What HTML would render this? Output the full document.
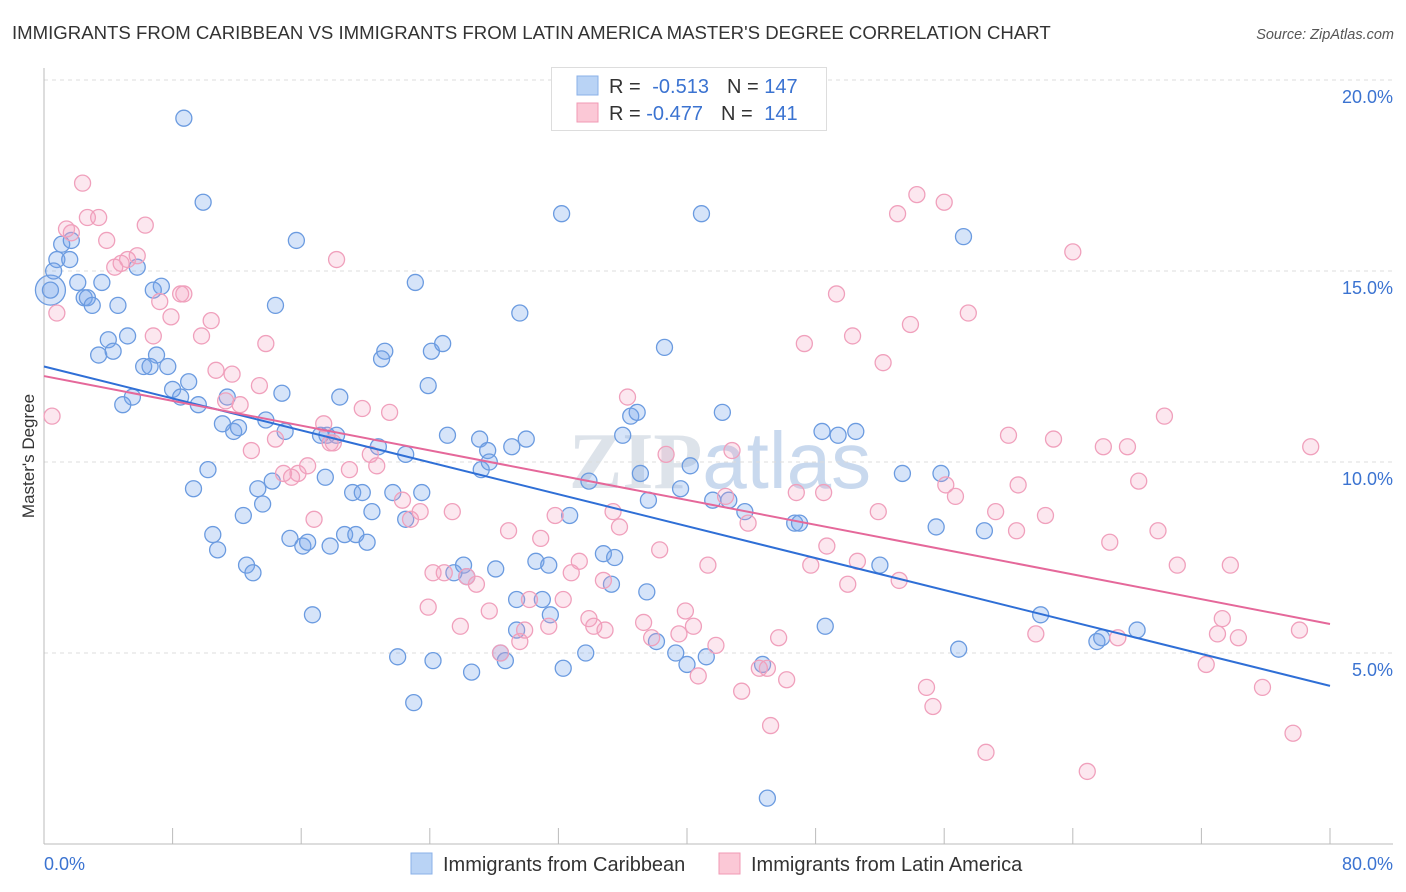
<!DOCTYPE html>
<html><head><meta charset="utf-8"><style>
body{margin:0;background:#fff;font-family:"Liberation Sans",sans-serif}
#wrap{position:relative;width:1406px;height:892px;overflow:hidden}
</style></head><body>
<div id="wrap">
<svg id="svg" width="1406" height="892" xmlns="http://www.w3.org/2000/svg">
<text x="12" y="39" font-size="18.6" fill="#333">IMMIGRANTS FROM CARIBBEAN VS IMMIGRANTS FROM LATIN AMERICA MASTER'S DEGREE CORRELATION CHART</text>
<text x="1394" y="39" font-size="14.5" fill="#555" font-style="italic" text-anchor="end">Source: ZipAtlas.com</text>
<text x="720" y="488" font-size="80" fill="#dde3ea" text-anchor="middle" font-family="Liberation Serif,serif" font-weight="bold">ZIP<tspan font-family="Liberation Sans,sans-serif" font-weight="normal" fill="#c9d9ee">atlas</tspan></text>
<g id="grid"></g><g id="axes"></g><g id="pts"></g><g id="trend"></g>
<text transform="translate(34,456) rotate(-90)" font-size="17" fill="#333" text-anchor="middle">Master's Degree</text>
<text x="44" y="870" font-size="18" fill="#3b73d1">0.0%</text>
<text x="1393" y="870" font-size="18" fill="#3b73d1" text-anchor="end">80.0%</text>
<g>
<rect x="551.5" y="67.5" width="275" height="63" fill="#fff" stroke="#ddd"/>
<rect x="577" y="76" width="21" height="19" fill="#b9d3f5" stroke="#8ab0e8"/>
<rect x="577" y="103" width="21" height="19" fill="#fbc8d6" stroke="#f09ab4"/>
<text x="609" y="93" font-size="20" fill="#333">R = <tspan fill="#3b73d1" dx="6">-0.513</tspan><tspan dx="18" fill="#333">N = </tspan><tspan fill="#3b73d1">147</tspan></text>
<text x="609" y="120" font-size="20" fill="#333">R = <tspan fill="#3b73d1">-0.477</tspan><tspan dx="18" fill="#333">N = </tspan><tspan fill="#3b73d1" dx="6">141</tspan></text>
</g>
<g>
<rect x="411" y="853" width="21" height="21" fill="#b9d3f5" stroke="#8ab0e8"/>
<text x="443" y="871" font-size="20" fill="#333">Immigrants from Caribbean</text>
<rect x="719" y="853" width="21" height="21" fill="#fbc8d6" stroke="#f09ab4"/>
<text x="751" y="871" font-size="20" fill="#333">Immigrants from Latin America</text>
</g>
</svg></div>
<script>
const blueX=[8.7,9.9,15.7,32.2,40.9,57.2,1.1,1.7,0.8,1.6,5.8,0.6,0.4,2.1,3.6,2.5,2.7,3.0,4.6,7.3,6.8,14.4,23.1,29.6,4.0,5.2,3.4,4.3,7.0,6.2,6.6,7.7,9.0,8.0,8.5,9.6,5.5,4.9,11.4,14.8,18.4,21.2,21.0,24.1,24.8,23.9,38.6,11.1,11.8,12.1,13.8,15.0,17.2,17.6,18.2,20.8,22.5,25.1,27.1,27.6,27.2,27.7,29.1,30.0,36.5,36.9,36.0,42.2,48.4,49.4,50.5,10.2,9.3,12.4,13.3,13.6,14.2,17.5,19.2,19.8,20.4,21.7,22.5,23.5,32.7,33.9,37.1,37.6,39.6,40.2,41.6,42.6,43.6,46.7,47.0,53.4,55.8,55.5,58.5,10.5,10.8,15.3,16.1,16.4,17.8,18.7,19.4,20.1,12.6,13.0,16.7,25.5,26.1,26.3,28.1,30.6,31.4,34.8,35.5,35.3,37.5,29.4,31.0,31.5,52.0,62.0,29.4,22.0,24.2,26.6,28.4,28.7,32.3,33.7,38.1,39.3,40.0,41.2,44.7,48.6,56.9,65.5,65.8,68.0,23.0,45.0];
const blueY=[19.0,16.8,15.8,16.5,16.5,15.9,15.7,15.8,15.3,15.3,15.1,15.0,14.5,14.7,14.7,14.3,14.3,14.1,14.1,14.6,14.5,14.1,14.7,13.9,13.2,13.3,12.8,12.9,12.8,12.5,12.5,12.5,12.1,11.9,11.7,11.5,11.7,11.5,11.7,11.8,11.7,12.9,12.7,12.9,13.1,12.0,13.0,11.0,10.8,10.9,11.1,10.8,10.7,10.7,10.7,10.4,10.2,10.7,10.6,10.3,9.8,10.0,10.4,10.6,11.2,11.3,10.7,11.3,10.8,10.7,10.8,9.8,9.3,8.6,9.3,8.9,9.5,9.6,9.2,9.2,8.7,9.2,8.5,9.2,8.6,9.5,9.7,9.0,9.3,9.9,9.0,9.0,8.7,8.4,8.4,9.7,9.7,8.3,8.2,8.1,7.7,8.0,7.8,7.9,7.8,8.1,8.1,7.9,7.3,7.1,6.0,7.1,7.3,7.0,7.2,7.4,7.3,7.6,7.5,6.8,6.6,6.4,6.4,6.0,7.3,6.0,5.6,4.9,4.8,4.5,5.0,4.8,4.6,5.0,5.3,5.0,4.7,4.9,4.7,5.7,5.1,5.3,5.4,5.6,3.7,1.2];
const pinkX=[2.4,1.4,1.7,2.7,3.4,3.9,6.3,4.4,4.8,5.2,5.8,0.8,0.5,7.2,7.9,8.7,8.5,6.8,9.8,10.4,13.8,18.2,10.7,11.7,11.3,12.2,13.4,14.4,12.9,17.4,18.0,17.8,19.8,21.5,20.3,20.7,19.0,14.9,15.8,16.4,15.4,16.8,22.3,23.4,22.8,25.4,28.9,30.9,31.8,35.4,35.8,38.7,36.3,42.8,42.4,43.8,46.8,48.5,48.7,49.3,50.3,47.3,52.2,53.1,54.3,56.0,53.9,57.5,64.0,60.0,62.8,65.9,67.4,69.7,78.8,56.1,56.7,59.2,60.6,62.3,68.1,60.5,66.3,69.3,70.5,73.8,51.9,47.7,50.6,50.0,53.2,24.2,24.9,26.9,26.3,27.7,30.2,32.3,32.8,33.3,38.3,41.3,23.9,25.9,29.6,29.9,31.4,33.9,34.2,34.9,37.3,39.9,40.4,37.8,39.5,41.8,45.7,28.4,40.7,43.4,44.5,45.0,46.2,54.9,55.3,45.2,58.6,64.9,61.7,66.8,73.0,73.3,74.3,78.1,72.3,75.8,77.7,34.8];
const pinkY=[17.3,16.1,16.0,16.4,16.4,15.8,16.2,15.1,15.2,15.3,15.4,13.9,11.2,14.2,13.8,14.4,14.4,13.3,13.3,13.7,13.1,15.3,12.4,12.3,11.6,11.5,12.0,10.6,10.3,11.0,10.5,10.5,11.4,11.3,10.2,9.9,9.8,9.7,9.7,9.9,9.6,8.5,9.0,8.7,8.5,8.7,8.2,8.0,8.6,8.7,8.3,10.2,11.7,10.3,9.1,8.4,9.2,9.2,7.8,14.4,13.3,13.1,12.6,16.5,17.0,16.8,13.6,13.9,15.5,10.7,10.6,10.4,10.4,11.2,10.4,9.4,9.1,8.7,9.4,8.6,9.5,8.2,7.9,8.2,7.3,7.3,8.7,7.3,7.4,6.8,6.9,7.1,7.1,6.8,7.0,6.1,6.4,6.4,7.1,7.4,7.7,7.3,6.2,5.7,5.3,5.6,5.7,5.9,5.7,5.6,5.8,6.1,5.7,5.4,5.5,5.2,5.4,5.0,4.4,4.0,4.6,4.6,4.3,4.1,3.6,3.1,2.4,1.9,5.5,5.4,5.5,5.9,5.4,5.6,4.7,4.1,2.9,6.9];
const bigBlueX=[0.4];
const bigBlueY=[14.5];
const blueTrend=[12.5,4.14];
const pinkTrend=[12.25,5.76];
const yTicks=[5,10,15,20];
const yTickLabels=["5.0%","10.0%","15.0%","20.0%"];
const xTicks=[0,8,16,24,32,40,48,56,64,72,80];
const NS="http://www.w3.org/2000/svg";
const sx=v=>44+v*1286/80, sy=v=>844-v*38.2;
function mk(t,a,p){const e=document.createElementNS(NS,t);for(const k in a)e.setAttribute(k,a[k]);p.appendChild(e);return e;}
const grid=document.getElementById('grid'),axes=document.getElementById('axes'),pts=document.getElementById('pts'),tr=document.getElementById('trend');
yTicks.forEach((v,i)=>{
 const l=mk('line',{x1:44,x2:1393,y1:sy(v),y2:sy(v),stroke:'#dcdcdc','stroke-dasharray':'4,4'},grid);
 
 
 const t=mk('text',{x:1393,y:sy(v)+23,'font-size':18,fill:'#3b73d1','text-anchor':'end'},grid);
 t.textContent=yTickLabels[i];
 
 
});
const xa=mk('line',{x1:44,x2:1393,y1:844,y2:844,stroke:'#bbb'},axes);


const ya=mk('line',{x1:44,x2:44,y1:68,y2:844,stroke:'#bbb'},axes);


xTicks.forEach(v=>{
 const t=mk('line',{x1:sx(v),x2:sx(v),y1:828,y2:844,stroke:'#bbb'},axes);
 
 
});
bigBlueX.forEach((v,i)=>{
 const c=mk('circle',{cx:sx(v),cy:sy(bigBlueY[i]),r:15,fill:'rgba(120,165,235,0.3)',stroke:'#6b9be0','stroke-width':1.3},pts);
 
 
});
blueX.forEach((v,i)=>{
 const c=mk('circle',{cx:sx(v),cy:sy(blueY[i]),r:8,fill:'rgba(120,165,235,0.3)',stroke:'#6b9be0','stroke-width':1.3},pts);
 
 
});
pinkX.forEach((v,i)=>{
 const c=mk('circle',{cx:sx(v),cy:sy(pinkY[i]),r:8,fill:'rgba(245,160,190,0.25)',stroke:'#f0a0bc','stroke-width':1.3},pts);
 
 
});
const bl=mk('line',{x1:sx(0),y1:sy(blueTrend[0]),x2:sx(80),y2:sy(blueTrend[1]),stroke:'#2f6fd6','stroke-width':2},tr);


const pl=mk('line',{x1:sx(0),y1:sy(pinkTrend[0]),x2:sx(80),y2:sy(pinkTrend[1]),stroke:'#e5689a','stroke-width':2},tr);


</script>
</body></html>
